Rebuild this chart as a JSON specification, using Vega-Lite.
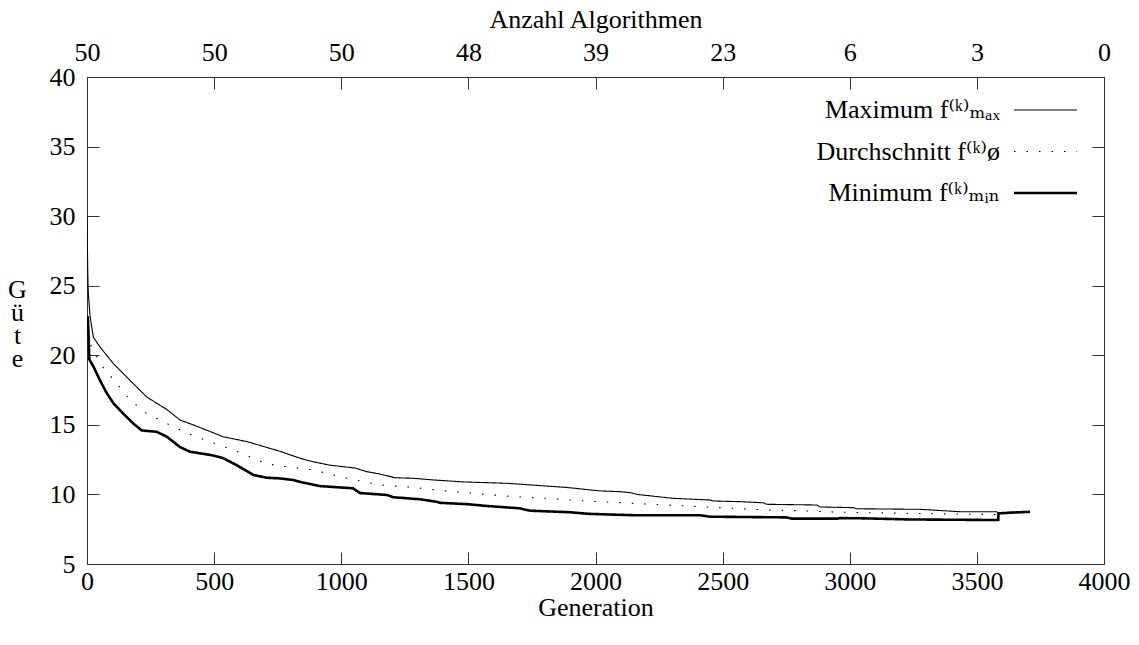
{
  "$schema": "https://vega.github.io/schema/vega-lite/v6.json",
  "width": 1017,
  "height": 487,
  "autosize": {"type": "none"},
  "padding": {"left": 87, "top": 77, "right": 35, "bottom": 81},
  "background": "white",
  "config": {
    "font": "Liberation Serif, DejaVu Serif, serif",
    "view": {"stroke": null},
    "axis": {
      "labelFont": "Liberation Serif, DejaVu Serif, serif",
      "titleFont": "Liberation Serif, DejaVu Serif, serif",
      "labelFontSize": 26,
      "titleFontSize": 26,
      "labelColor": "black",
      "titleColor": "black",
      "titleFontWeight": "normal",
      "domainColor": "#333",
      "tickColor": "#333",
      "grid": false,
      "tickSize": -12,
      "labelFlush": false,
      "labelOverlap": false
    },
    "legend": {
      "labelFont": "Liberation Serif, DejaVu Serif, serif"
    }
  },
  "data": {
    "values": [
      {"series": "max", "gen": 0, "value": 30.0},
      {"series": "max", "gen": 3, "value": 26.0},
      {"series": "max", "gen": 5, "value": 24.5},
      {"series": "max", "gen": 12, "value": 22.8},
      {"series": "max", "gen": 18, "value": 22.1},
      {"series": "max", "gen": 25, "value": 21.3},
      {"series": "max", "gen": 51, "value": 20.6},
      {"series": "max", "gen": 104, "value": 19.4},
      {"series": "max", "gen": 169, "value": 18.2},
      {"series": "max", "gen": 235, "value": 17.0},
      {"series": "max", "gen": 314, "value": 16.1},
      {"series": "max", "gen": 366, "value": 15.35},
      {"series": "max", "gen": 432, "value": 14.9},
      {"series": "max", "gen": 535, "value": 14.15},
      {"series": "max", "gen": 628, "value": 13.8},
      {"series": "max", "gen": 759, "value": 13.1},
      {"series": "max", "gen": 838, "value": 12.6},
      {"series": "max", "gen": 889, "value": 12.35},
      {"series": "max", "gen": 956, "value": 12.1},
      {"series": "max", "gen": 1054, "value": 11.9},
      {"series": "max", "gen": 1100, "value": 11.64},
      {"series": "max", "gen": 1152, "value": 11.47},
      {"series": "max", "gen": 1211, "value": 11.2},
      {"series": "max", "gen": 1283, "value": 11.16},
      {"series": "max", "gen": 1362, "value": 11.04},
      {"series": "max", "gen": 1480, "value": 10.9},
      {"series": "max", "gen": 1652, "value": 10.8},
      {"series": "max", "gen": 1809, "value": 10.6},
      {"series": "max", "gen": 1888, "value": 10.5},
      {"series": "max", "gen": 2018, "value": 10.25},
      {"series": "max", "gen": 2096, "value": 10.2},
      {"series": "max", "gen": 2136, "value": 10.13},
      {"series": "max", "gen": 2163, "value": 10.0},
      {"series": "max", "gen": 2214, "value": 9.9},
      {"series": "max", "gen": 2305, "value": 9.72},
      {"series": "max", "gen": 2450, "value": 9.6},
      {"series": "max", "gen": 2463, "value": 9.53},
      {"series": "max", "gen": 2568, "value": 9.48},
      {"series": "max", "gen": 2660, "value": 9.4},
      {"series": "max", "gen": 2674, "value": 9.29},
      {"series": "max", "gen": 2870, "value": 9.24},
      {"series": "max", "gen": 2883, "value": 9.1},
      {"series": "max", "gen": 3014, "value": 9.05},
      {"series": "max", "gen": 3027, "value": 8.97},
      {"series": "max", "gen": 3276, "value": 8.93},
      {"series": "max", "gen": 3433, "value": 8.76},
      {"series": "max", "gen": 3578, "value": 8.76},
      {"series": "max", "gen": 3584, "value": 8.69},
      {"series": "max", "gen": 3657, "value": 8.72},
      {"series": "max", "gen": 3709, "value": 8.75},
      {"series": "avg", "gen": 0, "value": 22.5},
      {"series": "avg", "gen": 5, "value": 21.2},
      {"series": "avg", "gen": 18, "value": 20.6},
      {"series": "avg", "gen": 60, "value": 19.2},
      {"series": "avg", "gen": 116, "value": 18.0},
      {"series": "avg", "gen": 169, "value": 16.8},
      {"series": "avg", "gen": 235, "value": 15.8},
      {"series": "avg", "gen": 314, "value": 15.1},
      {"series": "avg", "gen": 393, "value": 14.4},
      {"series": "avg", "gen": 497, "value": 13.7},
      {"series": "avg", "gen": 602, "value": 13.0},
      {"series": "avg", "gen": 707, "value": 12.2},
      {"series": "avg", "gen": 759, "value": 12.05},
      {"series": "avg", "gen": 889, "value": 11.76},
      {"series": "avg", "gen": 1022, "value": 11.16},
      {"series": "avg", "gen": 1152, "value": 10.68},
      {"series": "avg", "gen": 1283, "value": 10.5},
      {"series": "avg", "gen": 1416, "value": 10.25},
      {"series": "avg", "gen": 1546, "value": 10.03},
      {"series": "avg", "gen": 1676, "value": 9.84},
      {"series": "avg", "gen": 1809, "value": 9.72},
      {"series": "avg", "gen": 1939, "value": 9.55},
      {"series": "avg", "gen": 2045, "value": 9.46},
      {"series": "avg", "gen": 2149, "value": 9.36},
      {"series": "avg", "gen": 2281, "value": 9.24},
      {"series": "avg", "gen": 2412, "value": 9.12},
      {"series": "avg", "gen": 2543, "value": 9.0},
      {"series": "avg", "gen": 2674, "value": 8.88},
      {"series": "avg", "gen": 2804, "value": 8.83},
      {"series": "avg", "gen": 2935, "value": 8.74},
      {"series": "avg", "gen": 3067, "value": 8.69},
      {"series": "avg", "gen": 3237, "value": 8.64},
      {"series": "avg", "gen": 3578, "value": 8.55},
      {"series": "avg", "gen": 3584, "value": 8.69},
      {"series": "avg", "gen": 3657, "value": 8.72},
      {"series": "avg", "gen": 3709, "value": 8.75},
      {"series": "min", "gen": 0, "value": 22.3},
      {"series": "min", "gen": 3, "value": 22.8},
      {"series": "min", "gen": 6, "value": 21.5},
      {"series": "min", "gen": 9, "value": 19.7},
      {"series": "min", "gen": 25, "value": 19.2},
      {"series": "min", "gen": 51, "value": 18.2},
      {"series": "min", "gen": 77, "value": 17.3},
      {"series": "min", "gen": 104, "value": 16.55},
      {"series": "min", "gen": 143, "value": 15.8},
      {"series": "min", "gen": 182, "value": 15.1},
      {"series": "min", "gen": 215, "value": 14.6},
      {"series": "min", "gen": 274, "value": 14.5},
      {"series": "min", "gen": 314, "value": 14.15},
      {"series": "min", "gen": 366, "value": 13.4},
      {"series": "min", "gen": 405, "value": 13.07},
      {"series": "min", "gen": 497, "value": 12.8},
      {"series": "min", "gen": 536, "value": 12.6},
      {"series": "min", "gen": 589, "value": 12.1},
      {"series": "min", "gen": 654, "value": 11.4},
      {"series": "min", "gen": 707, "value": 11.2},
      {"series": "min", "gen": 759, "value": 11.15},
      {"series": "min", "gen": 811, "value": 11.04},
      {"series": "min", "gen": 838, "value": 10.9},
      {"series": "min", "gen": 916, "value": 10.6},
      {"series": "min", "gen": 1046, "value": 10.44},
      {"series": "min", "gen": 1074, "value": 10.1},
      {"series": "min", "gen": 1180, "value": 9.96},
      {"series": "min", "gen": 1204, "value": 9.8},
      {"series": "min", "gen": 1310, "value": 9.65},
      {"series": "min", "gen": 1376, "value": 9.47},
      {"series": "min", "gen": 1388, "value": 9.4},
      {"series": "min", "gen": 1495, "value": 9.3},
      {"series": "min", "gen": 1573, "value": 9.17},
      {"series": "min", "gen": 1703, "value": 9.0},
      {"series": "min", "gen": 1742, "value": 8.83},
      {"series": "min", "gen": 1900, "value": 8.72},
      {"series": "min", "gen": 1978, "value": 8.6},
      {"series": "min", "gen": 2069, "value": 8.55},
      {"series": "min", "gen": 2163, "value": 8.5},
      {"series": "min", "gen": 2412, "value": 8.5},
      {"series": "min", "gen": 2450, "value": 8.4},
      {"series": "min", "gen": 2750, "value": 8.35},
      {"series": "min", "gen": 2770, "value": 8.26},
      {"series": "min", "gen": 2950, "value": 8.26},
      {"series": "min", "gen": 2960, "value": 8.3},
      {"series": "min", "gen": 3060, "value": 8.28},
      {"series": "min", "gen": 3240, "value": 8.2},
      {"series": "min", "gen": 3584, "value": 8.16},
      {"series": "min", "gen": 3585, "value": 8.64},
      {"series": "min", "gen": 3657, "value": 8.71},
      {"series": "min", "gen": 3709, "value": 8.75}
    ]
  },
  "layer": [
    {
      "mark": {"type": "line", "color": "black", "clip": true},
      "encoding": {
        "x": {
          "field": "gen",
          "type": "quantitative",
          "scale": {"domain": [0, 4000], "nice": false, "zero": false},
          "axis": {
            "orient": "bottom",
            "values": [0, 500, 1000, 1500, 2000, 2500, 3000, 3500, 4000],
            "format": "d",
            "title": "Generation",
            "labelPadding": 16,
            "titlePadding": 0
          }
        },
        "y": {
          "field": "value",
          "type": "quantitative",
          "scale": {"domain": [5, 40], "nice": false, "zero": false},
          "axis": {
            "orient": "left",
            "values": [5, 10, 15, 20, 25, 30, 35, 40],
            "format": "d",
            "title": ["G", "ü", "t", "e"],
            "titleAngle": 0,
            "titleAlign": "center",
            "titleBaseline": "middle",
            "titleX": -70,
            "titleY": 212,
            "titleLineHeight": 23,
            "labelPadding": 24
          }
        },
        "strokeDash": {
          "field": "series",
          "type": "nominal",
          "scale": {"domain": ["max", "avg", "min"], "range": [[1, 0], [1.5, 11], [1, 0]]},
          "legend": {
            "orient": "none",
            "legendX": 942,
            "legendY": 16.5,
            "title": null,
            "padding": 0,
            "symbolType": "M-2,0H2",
            "symbolSize": 992,
            "symbolStrokeColor": "black",
            "symbolStrokeWidth": 1.1,
            "rowPadding": 11.5,
            "labelOffset": -62,
            "labelAlign": "right",
            "labelBaseline": "middle",
            "labelFontSize": 26,
            "labelColor": "black",
            "labelLimit": 400,
            "labelExpr": "datum.value === 'max' ? 'Maximum f⁽ᵏ⁾ₘₐₓ' : datum.value === 'avg' ? 'Durchschnitt f⁽ᵏ⁾ø' : 'Minimum f⁽ᵏ⁾ₘᵢₙ'",
            "encode": {
              "symbols": {"update": {"strokeWidth": {"signal": "(datum.value === 'min' ? 2.6 : 1.1)"}}}
            }
          }
        },
        "strokeWidth": {
          "condition": {"test": "datum.series === 'min'", "value": 2.6},
          "value": 1.1
        }
      }
    },
    {
      "mark": {"type": "line", "opacity": 0},
      "encoding": {
        "x": {
          "field": "gen",
          "type": "quantitative",
          "scale": {"domain": [0, 4000], "nice": false, "zero": false},
          "axis": {
            "orient": "top",
            "values": [0, 500, 1000, 1500, 2000, 2500, 3000, 3500, 4000],
            "labelExpr": "datum.value < 1250 ? '50' : datum.value < 1750 ? '48' : datum.value < 2250 ? '39' : datum.value < 2750 ? '23' : datum.value < 3250 ? '6' : datum.value < 3750 ? '3' : '0'",
            "title": "Anzahl Algorithmen",
            "labelPadding": 24,
            "titlePadding": 7
          }
        },
        "y": {
          "field": "value",
          "type": "quantitative",
          "scale": {"domain": [5, 40], "nice": false, "zero": false},
          "axis": {
            "orient": "right",
            "values": [5, 10, 15, 20, 25, 30, 35, 40],
            "labels": false,
            "title": null
          }
        },
        "detail": {"field": "series", "type": "nominal"}
      }
    }
  ],
  "resolve": {"scale": {"x": "independent", "y": "independent"}}
}
